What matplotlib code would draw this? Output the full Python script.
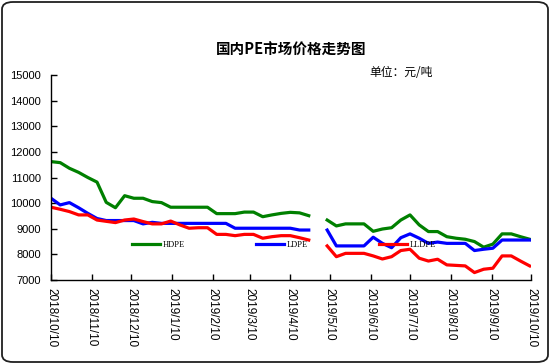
import numpy as np
import pandas as pd
import matplotlib
matplotlib.use('Agg')
import matplotlib.pyplot as plt
from matplotlib.patches import FancyBboxPatch

plt.rcParams['font.family'] = ['Liberation Sans', 'Noto Sans CJK SC', 'DejaVu Sans']

# weekly price data, 2018/10/10 - 2019/10/9 (yuan/ton); NaN = no quote (May Day week)
dates = pd.date_range('2018-10-10', periods=53, freq='7D')
nan = np.nan
hdpe = [11620, 11580, 11360, 11200, 11000, 10820, 10030, 9820, 10290, 10190,
        10190, 10060, 10020, 9840, 9840, 9840, 9840, 9840, 9590, 9590,
        9590, 9650, 9650, 9470, 9540, 9600, 9640, 9620, 9510, nan,
        9340, 9110, 9190, 9190, 9190, 8900, 8990, 9040, 9340, 9540,
        9150, 8890, 8890, 8690, 8630, 8590, 8500, 8280, 8400, 8800,
        8800, 8690, 8590]
ldpe = [10190, 9930, 10020, 9820, 9600, 9400, 9320, 9320, 9320, 9320,
        9190, 9250, 9210, 9210, 9210, 9210, 9210, 9210, 9210, 9210,
        9020, 9020, 9020, 9020, 9020, 9020, 9020, 8950, 8950, nan,
        8950, 8330, 8330, 8330, 8330, 8670, 8430, 8260, 8650, 8800,
        8630, 8430, 8480, 8430, 8430, 8430, 8150, 8200, 8240, 8560,
        8560, 8560, 8560]
lldpe = [9840, 9760, 9670, 9540, 9540, 9340, 9290, 9240, 9340, 9380,
         9280, 9190, 9190, 9300, 9150, 9020, 9040, 9040, 8780, 8780,
         8730, 8780, 8780, 8630, 8690, 8730, 8730, 8650, 8560, nan,
         8330, 7910, 8040, 8040, 8040, 7940, 7820, 7910, 8150, 8200,
         7850, 7740, 7810, 7590, 7570, 7550, 7290, 7420, 7460, 7940,
         7940, 7740, 7550]

tick_labels = ['2018/10/10', '2018/11/10', '2018/12/10', '2019/1/10', '2019/2/10',
               '2019/3/10', '2019/4/10', '2019/5/10', '2019/6/10', '2019/7/10',
               '2019/8/10', '2019/9/10', '2019/10/10']
tick_dates = pd.to_datetime(tick_labels, format='%Y/%m/%d')

fig = plt.figure(figsize=(5.5, 3.64), dpi=100)
fig.patches.append(FancyBboxPatch((2 / 550, 2 / 364), 546 / 550, 360 / 364,
                                  boxstyle='round,pad=0,rounding_size=0.02',
                                  transform=fig.transFigure, fill=False,
                                  edgecolor='#202020', linewidth=1.3))

ax = fig.add_axes([51 / 550, 1 - 280 / 364, 480 / 550, 205 / 364])
ax.plot(dates, hdpe, color='#008000', lw=2.3, label='HDPE')
ax.plot(dates, ldpe, color='#0000FF', lw=2.3, label='LDPE')
ax.plot(dates, lldpe, color='#FF0000', lw=2.3, label='LLDPE')

ax.set_xlim(tick_dates[0], tick_dates[-1])
ax.set_ylim(7000, 15000)
ax.set_yticks(range(7000, 15001, 1000))
ax.set_xticks(tick_dates)
ax.set_xticklabels(tick_labels, rotation=-90, va='top', ha='center')
ax.tick_params(direction='in', length=4, width=1, color='black')
ax.tick_params(axis='x', pad=6, labelsize=8.5)
ax.tick_params(axis='y', pad=7, labelsize=8)
for s in ['top', 'right']:
    ax.spines[s].set_visible(False)
for s in ['left', 'bottom']:
    ax.spines[s].set_linewidth(1)

fig.text(291 / 550, 1 - 50 / 364, '国内PE市场价格走势图', ha='center', va='center',
         fontsize=10.5, fontweight='bold', family=['Noto Sans CJK SC', 'DejaVu Sans'])
fig.text(369 / 550, 1 - 73 / 364, '单位：元/吨', ha='left', va='center',
         fontsize=8.5, family=['Noto Sans CJK SC', 'DejaVu Sans'])

ax.legend(ncol=3, frameon=False, loc='center left',
          bbox_to_anchor=(132 / 550, 1 - 245 / 364), bbox_transform=fig.transFigure,
          prop={'family': 'Liberation Serif', 'size': 6}, handlelength=3.4,
          handletextpad=0.3, columnspacing=8.5, borderpad=0, borderaxespad=0)

fig.savefig('out.png', dpi=100)
